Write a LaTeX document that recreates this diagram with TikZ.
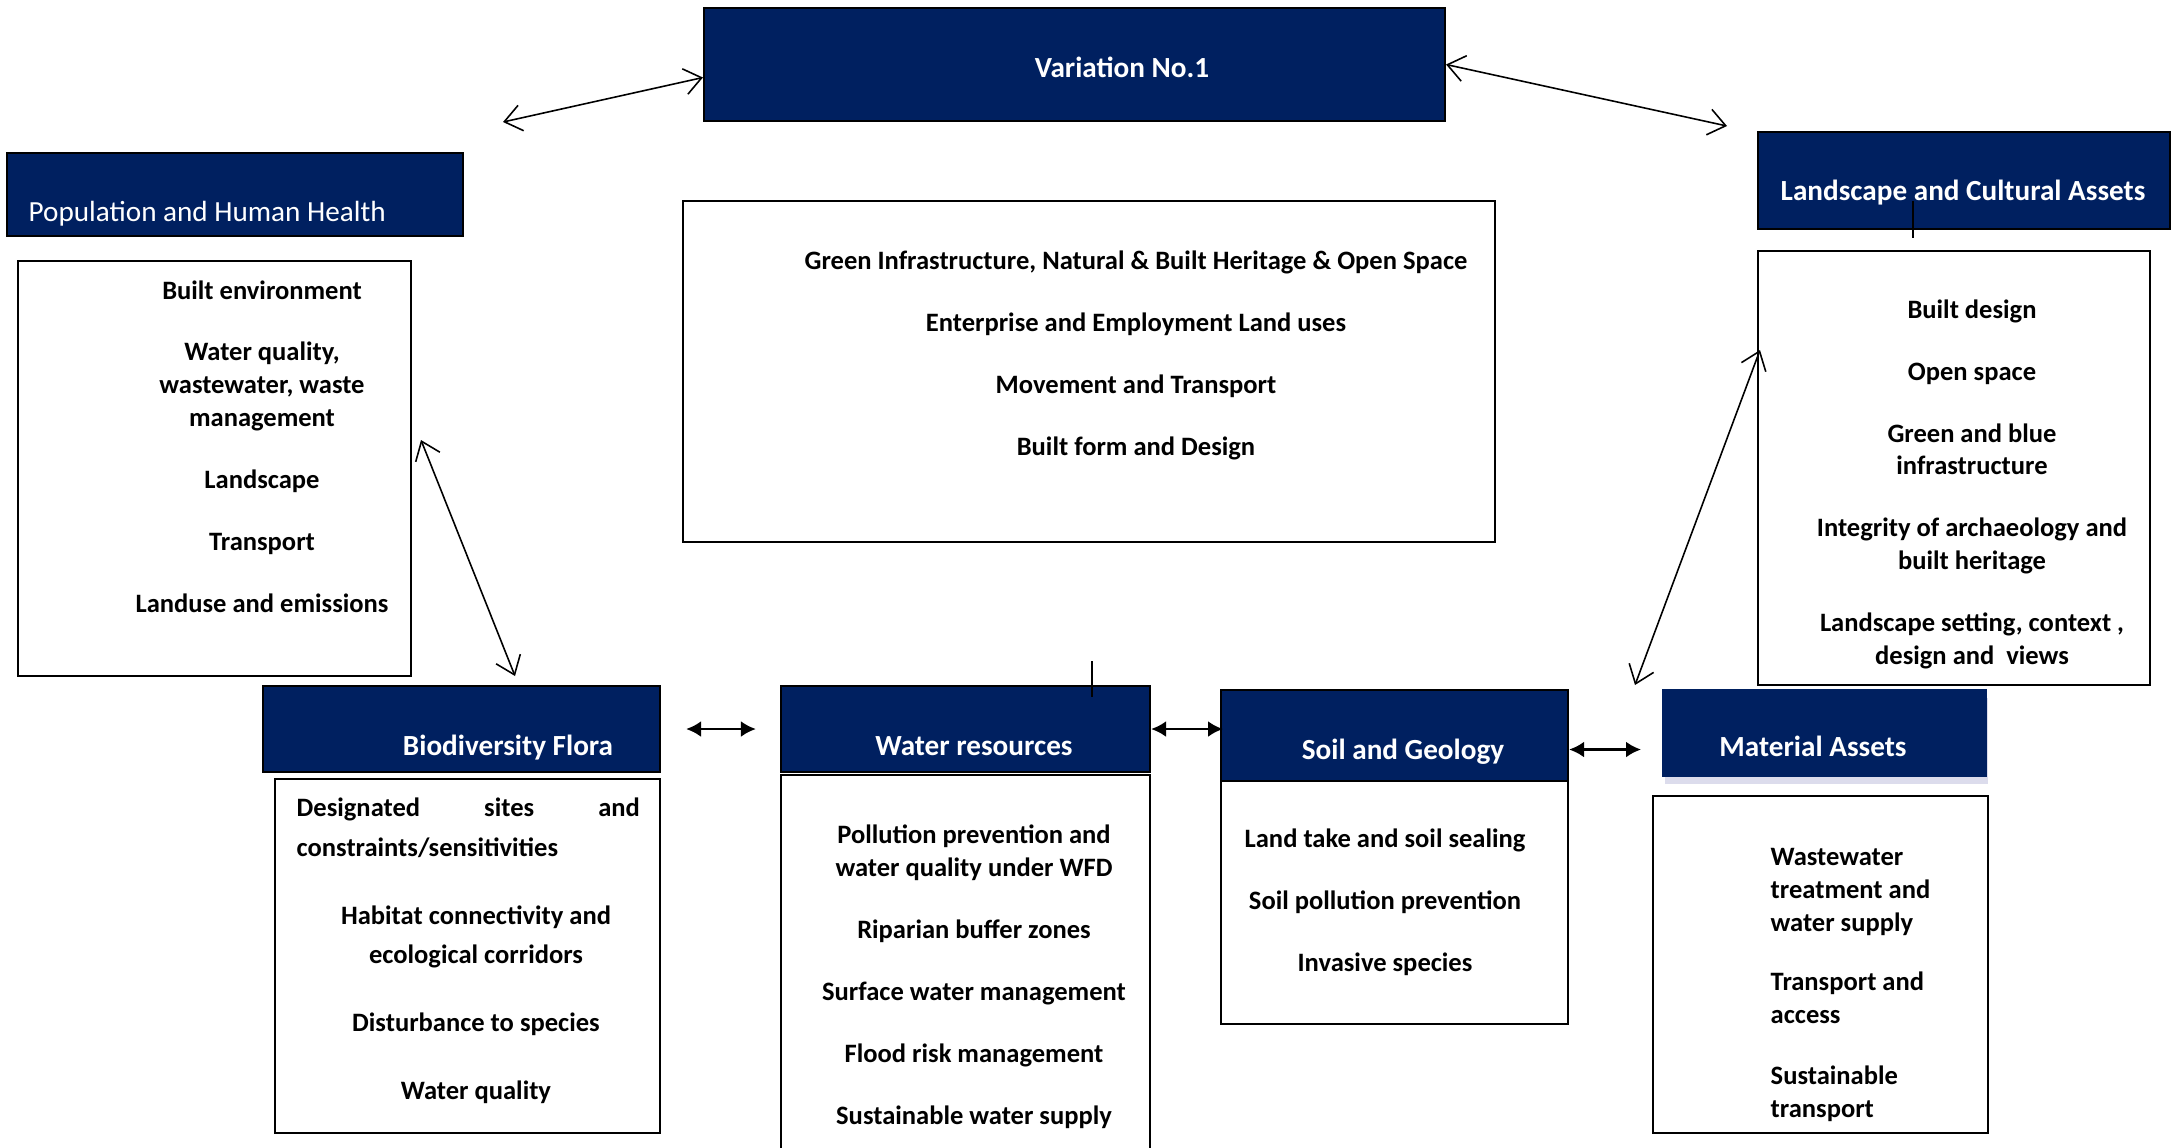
\documentclass[tikz,border=0pt]{standalone}
\usepackage{fontspec}
\setmainfont{Carlito}
\usepackage{xcolor}
\usetikzlibrary{arrows.meta,fit,shadows}
\definecolor{navy}{RGB}{0,32,96}

\tikzset{
  hd/.style={draw=black, fill=navy, line width=0.6pt, inner sep=0pt},
  bx/.style={draw=black, line width=0.6pt, inner sep=0pt},
  hdtxt/.style={text=white, font=\fontsize{8.3}{10}\selectfont\bfseries, inner sep=0pt, anchor=base},
  txt/.style={font=\fontsize{7.55}{9.3}\selectfont\bfseries, inner sep=0pt, anchor=base, align=center},
  biarr/.style={{Straight Barb[length=1.7mm,width=2.6mm]}-{Straight Barb[length=1.7mm,width=2.6mm]}, line width=0.45pt},
  duo/.style={{Latex[length=1.5mm,width=1.6mm]}-{Latex[length=1.5mm,width=1.6mm]}, line width=0.8pt}
}

\begin{document}
\begin{tikzpicture}[x=0.01cm, y=-0.01cm]
 \useasboundingbox (0,0) rectangle (2178,1147);
 % ---- header boxes ----
 \node[hd, fit={(704,8) (1445,121)}] (var) {};
 \node[hd, fit={(7,153) (463,236)}] (pop) {};
 \node[hd, fit={(1758,132) (2170,229)}] (land) {};
 \node[hd, fit={(263,686) (660,772)}] (bio) {};
 \node[hd, fit={(781,686) (1150,772)}] (wat) {};
 \node[hd, fit={(1221,690) (1568,781)}] (soil) {};
 \node[hd, draw=navy, fit={(1663,690) (1986,776)},
   drop shadow={shadow xshift=0.2mm, shadow yshift=-0.8mm, fill=blue!30!gray!70, opacity=0.3}] (mat) {};
 % ---- content boxes ----
 \node[bx, fit={(18,261) (411,676)}] (popbox) {};
 \node[bx, fit={(683,201) (1495,542)}] (midbox) {};
 \node[bx, fit={(1758,251) (2150,685)}] (landbox) {};
 \node[bx, fit={(275,779) (660,1133)}] (biobox) {};
 \node[bx, fit={(781,775) (1150,1152)}] (watbox) {};
 \node[bx, fit={(1221,781) (1568,1024)}] (soilbox) {};
 \node[bx, fit={(1653,796) (1988,1133)}] (matbox) {};
 % ---- header texts ----
 \node[hdtxt] (vartxt) at (1122,77) {Variation No.1};
 \node[hdtxt, font=\fontsize{8.3}{10}\selectfont, anchor=base west] (poptxt) at (28,221) {Population and Human Health};
 \node[hdtxt] (landtxt) at (1963,200) {Landscape and Cultural Assets};
 \node[hdtxt] (biotxt) at (508,755) {Biodiversity Flora};
 \node[hdtxt] (wattxt) at (974,755) {Water resources};
 \node[hdtxt] (soiltxt) at (1403,759) {Soil and Geology};
 \node[hdtxt] (mattxt) at (1813,756) {Material Assets};
 % ---- lists (placed by last baseline) ----
 \node[txt] (poplist) at (262,612) {Built environment\\[8.3pt] Water quality,\\ wastewater, waste\\ management\\[8.3pt] Landscape\\[8.3pt] Transport\\[8.3pt] Landuse and emissions};
 \node[txt] (midlist) at (1136,455) {Green Infrastructure, Natural \& Built Heritage \& Open Space\\[8.3pt] Enterprise and Employment Land uses\\[8.3pt] Movement and Transport\\[8.3pt] Built form and Design};
 \node[txt] (landlist) at (1972,664) {Built design\\[8.3pt] Open space\\[8.3pt] Green and blue\\ infrastructure\\[8.3pt] Integrity of archaeology and\\ built heritage\\[8.3pt] Landscape setting, context ,\\ design and~ views};
 \node[txt, align=left, anchor=base west, font=\fontsize{7.55}{11.1}\selectfont\bfseries] (biotop) at (296,856) {\makebox[3.43cm][s]{Designated sites and}\\ constraints/sensitivities};
 \node[txt, font=\fontsize{7.55}{11.1}\selectfont\bfseries] (biolist) at (476,1099) {Habitat connectivity and\\ ecological corridors\\[8.2pt] Disturbance to species\\[8.2pt] Water quality};
 \node[txt] (watlist) at (974,1124) {Pollution prevention and\\ water quality under WFD\\[8.3pt] Riparian buffer zones\\[8.3pt] Surface water management\\[8.3pt] Flood risk management\\[8.3pt] Sustainable water supply};
 \node[txt] (soillist) at (1385,971) {Land take and soil sealing\\[8.3pt] Soil pollution prevention\\[8.3pt] Invasive species};
 \node[txt, align=left, anchor=base west] (matlist) at (1770,1117) {Wastewater\\ treatment and\\ water supply\\[7.6pt] Transport and\\ access\\[8pt] Sustainable\\ transport};
 % ---- links ----
 \coordinate (popfree) at (503,122);
 \coordinate (landfree) at (1727,126);
 \coordinate (popside) at (421,440);
 \coordinate (biotopend) at (515,676);
 \coordinate (landside) at (1760,350);
 \coordinate (matfree) at (1635,685);
 \draw[biarr] ([yshift=-1.3mm]var.west) -- (popfree);
 \draw[biarr] (var.east) -- (landfree);
 \draw[biarr] (popside) -- (biotopend);
 \draw[biarr] (landside) -- (matfree);
 \draw[duo] ([xshift=2.5mm]bio.east) -- ([xshift=-2.4mm]wat.west);
 \draw[duo] (wat.east) -- ++(72,0);
 \draw[duo] ([yshift=-1.4mm]soil.east) -- ++(72,0);
 % stray ticks
 \coordinate (wattick) at (1092,661);
 \coordinate (landtick) at (1913,201);
 \draw[line width=0.45pt] (wattick) -- ++(0,36);
 \draw[line width=0.45pt] (landtick) -- ++(0,37);
\end{tikzpicture}
\end{document}
